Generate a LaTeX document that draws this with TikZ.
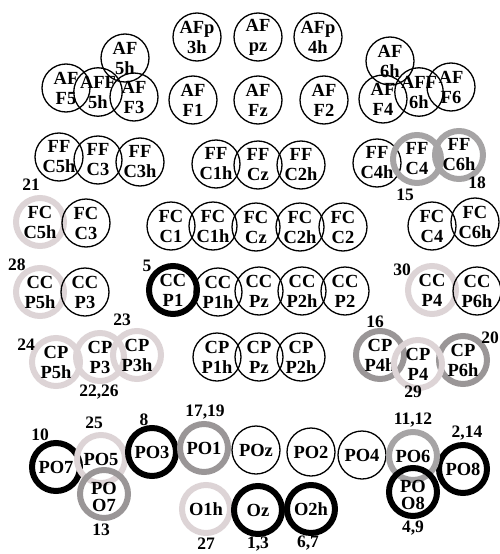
\documentclass[tikz,border=0pt]{standalone}
\usepackage{fontspec}
\setmainfont{Liberation Serif}
\usepackage{tikz}

\definecolor{ringmid}{HTML}{A6A4A5}
\definecolor{ringdark}{HTML}{9A9697}
\definecolor{ringlight}{HTML}{DDD4D6}

\begin{document}
\begin{tikzpicture}[
  x=1pt,y=1pt,
  font=\fontsize{18.5}{20}\selectfont\bfseries,
  el/.style ={circle,draw,line width=1.3pt,minimum size=48pt,inner sep=0pt,align=center},
  blk/.style={el,line width=6pt},
  gmd/.style={el,line width=6pt,draw=ringmid},
  gdk/.style={el,line width=6pt,draw=ringdark},
  glt/.style={el,line width=6pt,draw=ringlight},
  lo/.style ={label={[inner sep=0pt,yshift=-3pt,align=center]center:#1}},
  num/.style={inner sep=0pt,font=\fontsize{17.5}{19}\selectfont\bfseries}
]
\useasboundingbox (0,0) rectangle (499,-554);

% ======== AFp / AF
\node[el] (AFpIIIh) at (197,-37) {AFp\\3h};
\node[el] (AFpz)    at (258,-37) {AF\\pz};
\node[el] (AFpIVh)  at (318,-37) {AFp\\4h};
\node[el] (AFVh)    at (125,-58) {AF\\5h};
\node[el] (AFVIh)   at (390,-61) {AF\\6h};
\node[el] (AFFV)    at (66,-88)  {AF\\F5};
\node[el] (AFFVh)   at (98,-92)  {AFF\\5h};
\node[el] (AFFIII)  at (134,-97) {AF\\F3};
\node[el] (AFFI)    at (193,-100) {AF\\F1};
\node[el] (AFFz)    at (258,-100) {AF\\Fz};
\node[el] (AFFII)   at (324,-100) {AF\\F2};
\node[el] (AFFIV)   at (383,-99) {AF\\F4};
\node[el] (AFFVIh)  at (419,-92) {AFF\\6h};
\node[el] (AFFVI)   at (451,-87) {AF\\F6};

% ======== FF
\node[el]  (FFCVh)   at (59,-157)  {FF\\C5h};
\node[el]  (FFCIII)  at (98,-160)  {FF\\C3};
\node[el]  (FFCIIIh) at (140,-162) {FF\\C3h};
\node[el]  (FFCIh)   at (216,-164) {FF\\C1h};
\node[el]  (FFCz)    at (258,-165) {FF\\Cz};
\node[el]  (FFCIIh)  at (301,-165) {FF\\C2h};
\node[el]  (FFCIVh)  at (377,-163) {FF\\C4h};
\node[gmd] (FFCIV)   at (417,-159) {FF\\C4};
\node[gmd] (FFCVIh)  at (459,-155) {FF\\C6h};

% ======== FC
\node[glt] (FCCVh)   at (40,-222)  {FC\\C5h};
\node[el]  (FCCIII)  at (86,-223)  {FC\\C3};
\node[el]  (FCCI)    at (171,-226) {FC\\C1};
\node[el]  (FCCIh)   at (213,-226) {FC\\C1h};
\node[el]  (FCCz)    at (256,-227) {FC\\Cz};
\node[el]  (FCCIIh)  at (300,-227) {FC\\C2h};
\node[el]  (FCCII)   at (343,-227) {FC\\C2};
\node[el]  (FCCIV)   at (432,-226) {FC\\C4};
\node[el]  (FCCVIh)  at (475,-222) {FC\\C6h};

% ======== CC
\node[glt] (CCPVh)   at (40,-292)  {CC\\P5h};
\node[el]  (CCPIII)  at (85,-292)  {CC\\P3};
\node[blk] (CCPI)    at (173,-290) {CC\\P1};
\node[el]  (CCPIh)   at (218,-292) {CC\\P1h};
\node[el]  (CCPz)    at (259,-291) {CC\\Pz};
\node[el]  (CCPIIh)  at (302,-291) {CC\\P2h};
\node[el]  (CCPII)   at (345,-291) {CC\\P2};
\node[glt] (CCPIV)   at (432,-290) {CC\\P4};
\node[el]  (CCPVIh)  at (477,-291) {CC\\P6h};

% ======== CP
\node[glt] (CPPVh)   at (56,-362)  {CP\\P5h};
\node[glt] (CPPIII)  at (100,-357) {CP\\P3};
\node[glt] (CPPIIIh) at (137,-355) {CP\\P3h};
\node[el]  (CPPIh)   at (217,-357) {CP\\P1h};
\node[el]  (CPPz)    at (259,-357) {CP\\Pz};
\node[el]  (CPPIIh)  at (301,-357) {CP\\P2h};
\node[gdk] (CPPIVh)  at (380,-355) {CP\\P4h};
\node[gdk] (CPPVIh)  at (463,-360) {CP\\P6h};
\node[glt] (CPPIV)   at (418,-364) {CP\\P4};

% ======== PO / O
\node[blk] (POVII)   at (56,-467)  {PO7};
\node[glt] (POV)     at (101,-459) {PO5};
\node[gdk,lo={PO\\[-3pt]O7}] (POOVII) at (104,-494) {};
\node[blk] (POIII)   at (152,-452) {PO3};
\node[gdk] (POI)     at (204,-448) {PO1};
\node[el]  (POz)     at (256,-450) {POz};
\node[el]  (POII)    at (311,-452) {PO2};
\node[el]  (POIV)    at (362,-455) {PO4};
\node[blk] (POVIII)  at (463,-469) {PO8};
\node[gmd] (POVI)    at (413,-456) {PO6};
\node[blk,lo={PO\\[-3pt]O8}] (POOVIII) at (413,-492) {};
\node[glt] (OIh)     at (206,-509) {O1h};
\node[blk] (Oz)      at (258,-510) {Oz};
\node[blk] (OIIh)    at (311,-509) {O2h};

% ======== numbers
\node[num] (nXXI)    at (31,-185)  {21};
\node[num] (nXV)     at (405,-195) {15};
\node[num] (nXVIII)  at (477,-183) {18};
\node[num] (nXXVIII) at (17,-265)  {28};
\node[num] (nV)      at (147,-266) {5};
\node[num] (nXXX)    at (402,-270) {30};
\node[num] (nXXIII)  at (122,-320) {23};
\node[num] (nXXIV)   at (26,-345)  {24};
\node[num] (nXXII)   at (99,-392)  {22,26};
\node[num] (nXVI)    at (375,-322) {16};
\node[num] (nXXIX)   at (413,-392) {29};
\node[num] (nXX)     at (490,-338) {20};
\node[num] (nX)      at (40,-435)  {10};
\node[num] (nXXV)    at (94,-423)  {25};
\node[num] (nVIII)   at (144,-420) {8};
\node[num] (nXVII)   at (205,-412) {17,19};
\node[num] (nXIII)   at (101,-530) {13};
\node[num] (nXXVII)  at (206,-544) {27};
\node[num] (nI)      at (258,-544) {1,3};
\node[num] (nVI)     at (308,-543) {6,7};
\node[num] (nXI)     at (413,-420) {11,12};
\node[num] (nII)     at (467,-433) {2,14};
\node[num] (nIV)     at (413,-528) {4,9};
\end{tikzpicture}
\end{document}
